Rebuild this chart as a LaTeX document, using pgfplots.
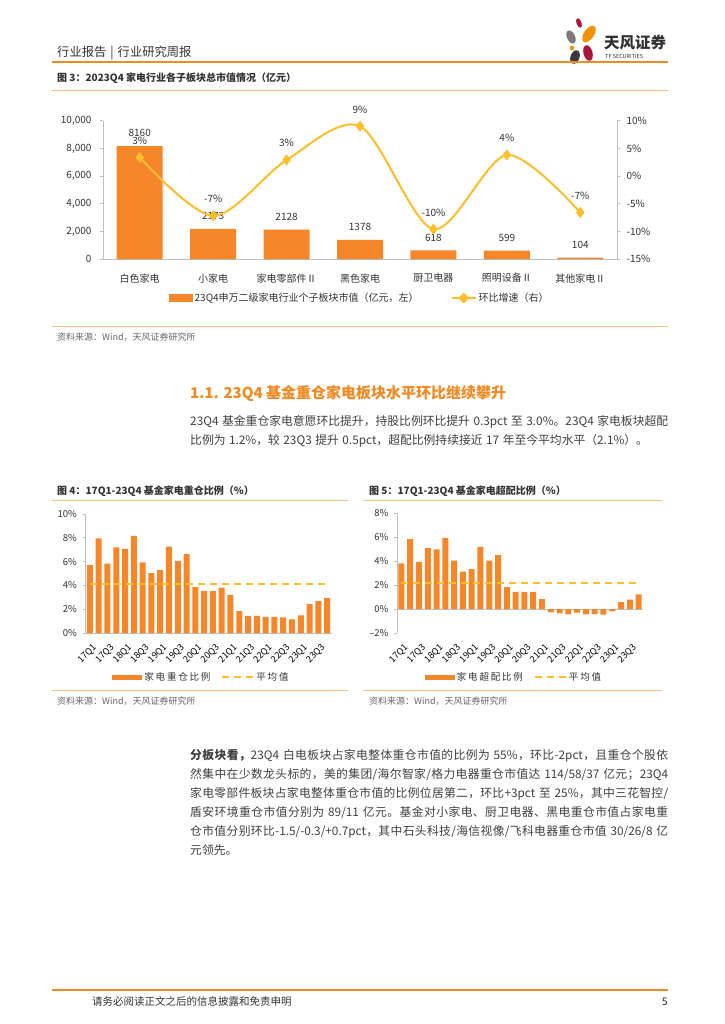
\documentclass[border=0pt]{standalone}
\usepackage{fontspec}
\setmainfont{Noto Sans CJK SC}
\usepackage{pgfplots}
\pgfplotsset{compat=1.18}

% stretchable glue between CJK characters (for justified lines)
\XeTeXinterchartokenstate=1
\makeatletter
\count@="3000
\loop \XeTeXcharclass\count@=7 \advance\count@ by 1 \ifnum\count@<"3040 \repeat
\count@="4E00
\loop \XeTeXcharclass\count@=7 \advance\count@ by 1 \ifnum\count@<"A000 \repeat
\count@="FF00
\loop \XeTeXcharclass\count@=7 \advance\count@ by 1 \ifnum\count@<"FFF0 \repeat
\makeatother
\XeTeXinterchartoks 7 7 = {\hskip 0pt plus 1pt minus 0.2pt\relax}
\XeTeXinterchartoks 0 7 = {\hskip 0pt plus 1pt minus 0.2pt\relax}
\XeTeXinterchartoks 7 0 = {\hskip 0pt plus 1pt minus 0.2pt\relax}

\definecolor{barO}{HTML}{F5862A}
\definecolor{lineY}{HTML}{FDBE2C}
\definecolor{hdrO}{HTML}{F08A24}
\definecolor{ltO}{HTML}{F9BE88}
\definecolor{txt}{HTML}{333333}
\definecolor{body}{HTML}{404040}
\definecolor{src}{HTML}{666666}
\definecolor{axg}{HTML}{BFBFBF}
\definecolor{logoR}{HTML}{A8163A}
\definecolor{logoO}{HTML}{F39200}
\definecolor{logoG}{HTML}{7A7A7A}
\definecolor{logoD}{HTML}{3A3A3A}

\pgfplotsset{
  /pgf/number format/assume math mode=true,
  barlegend/.style={legend image code/.code={\fill[barO] (0pt,-3pt) rectangle (23pt,3.5pt);}},
  barlegendw/.style={legend image code/.code={\fill[barO] (0pt,-2.5pt) rectangle (30pt,2.5pt);}},
  linelegend/.style={legend image code/.code={\draw[lineY,line width=2pt] (0pt,0pt) -- (24pt,0pt); \fill[lineY] (12pt,4pt) -- (16pt,0pt) -- (12pt,-4pt) -- (8pt,0pt) -- cycle;}},
  dashlegend/.style={legend image code/.code={\draw[lineY,line width=2pt,dash pattern=on 7pt off 5pt] (0pt,0pt) -- (31pt,0pt);}},
  pagebase/.style={scale only axis, clip=false,
    axis line style={draw=axg, line width=0.8pt},
    tick align=outside, major tick length=3pt,
    tick style={draw=axg, line width=0.8pt},
    tick label style={text=txt}},
}

\newcommand{\jl}[2]{\node[anchor=base west, inner sep=0, text=body, font=\fontsize{11.8}{14}\selectfont] at (190,#1) {\spaceskip=3.5pt plus 1pt minus 0.5pt\makebox[478pt][s]{#2}};}
\newcommand{\pl}[2]{\node[anchor=base west, inner sep=0, text=body, font=\fontsize{11.8}{14}\selectfont] at (190,#1) {\spaceskip=3.5pt\relax #2};}
\newcommand{\lsp}{\kern1.8pt}

\begin{document}
\begin{tikzpicture}[x=1pt,y=-1pt]
\fill[white] (0,0) rectangle (724,1024);

% ---------- header ----------
\node[anchor=base west, inner sep=0, text=txt, font=\fontsize{12.3}{14}\selectfont] at (57,56.6) {行业报告\hspace{4pt}|\hspace{4pt}行业研究周报};
\fill[logoR, rotate around={20:(579,23)}] (579,23) ellipse (2.5pt and 5pt);
\fill[logoO, rotate around={-35:(589,34)}] (589,34) ellipse (5pt and 9.5pt);
\fill[logoG, rotate around={25:(571,37)}] (571,37) ellipse (4pt and 7pt);
\fill[logoO] (572,48) circle (2.3pt);
\fill[logoR, rotate around={15:(588,53)}] (588,53) ellipse (4.5pt and 8pt);
\fill[logoD, rotate around={-20:(575,57)}] (575,57) ellipse (4.5pt and 7pt);
\node[anchor=base west, inner sep=0, text=txt, font=\fontsize{15.5}{16}\selectfont\bfseries] at (604,48.5) {天风证券};
\node[anchor=base west, inner sep=0, text=txt, font=\fontsize{5.5}{6}\selectfont] at (605,58.5) {TF SECURITIES};
\draw[hdrO, line width=1.5pt] (52,62) -- (668,62);

% ---------- figure 3 ----------
\node[anchor=base west, inner sep=0, text=txt, font=\fontsize{10}{12}\selectfont\bfseries] at (57,81.8) {图 3：2023Q4 家电行业各子板块总市值情况（亿元）};
\draw[ltO, line width=0.8pt] (52,90) -- (668,90);

\begin{axis}[pagebase,
  at={(103pt,-259pt)}, anchor=south west,
  width=514pt, height=138.3pt,
  xmin=-0.5, xmax=6.5, ymin=0, ymax=10000,
  axis x line*=bottom, axis y line*=left,
  xtick={0,...,6},
  xticklabels={白色家电,小家电,家电零部件Ⅱ,黑色家电,厨卫电器,照明设备Ⅱ,其他家电Ⅱ},
  x tick style={draw=none},
  ytick={0,2000,...,10000},
  scaled y ticks=false,
  tick label style={font=\fontsize{10}{12}\selectfont},
  x tick label style={yshift=-8pt},
  y tick label style={xshift=-5pt},
]
\addplot[ybar, bar width=46pt, fill=barO, draw=none,
  nodes near coords={\pgfmathprintnumber[1000 sep={}]{\pgfplotspointmeta}},
  every node near coord/.append style={font=\fontsize{10}{12}\selectfont, text=txt, anchor=center, yshift=13pt}]
  coordinates {(0,8160) (1,2173) (2,2128) (3,1378) (4,618) (5,599) (6,104)};
\end{axis}

\begin{axis}[pagebase,
  at={(103pt,-259pt)}, anchor=south west,
  width=514pt, height=138.3pt,
  xmin=-0.5, xmax=6.5, ymin=-15, ymax=10,
  axis x line=none, axis y line*=right,
  ytick={-15,-10,-5,0,5,10},
  yticklabels={-15\%,-10\%,-5\%,0\%,5\%,10\%},
  tick label style={font=\fontsize{10}{12}\selectfont},
  y tick label style={xshift=3pt},
  legend style={at={(0.5,-0.282)}, anchor=center, draw=none, fill=none,
    font=\fontsize{10}{12}\selectfont, text=txt,
    /tikz/every even column/.append style={column sep=30pt}},
  legend columns=2,
]
\addlegendimage{barlegend}
\addlegendentry{23Q4申万二级家电行业个子板块市值（亿元，左）}
\addplot[smooth, lineY, line width=2pt, mark=diamond*, mark size=4pt,
  mark options={fill=lineY, draw=lineY},
  point meta=explicit symbolic,
  nodes near coords={\pgfplotspointmeta\%},
  every node near coord/.append style={font=\fontsize{10}{12}\selectfont, text=txt, anchor=center, yshift=16.7pt},
  linelegend]
  coordinates {(0,3.35) [3] (1,-7.2) [-7] (2,2.9) [3] (3,9.0) [9] (4,-9.6) [-10] (5,3.8) [4] (6,-6.6) [-7]};
\addlegendentry{环比增速（右）}
\end{axis}

\draw[ltO, line width=0.8pt] (52,326) -- (668,326);
\node[anchor=base west, inner sep=0, text=src, font=\fontsize{9}{11}\selectfont] at (57,340.4) {资料来源：Wind，天风证券研究所};

% ---------- section text ----------
\node[anchor=base west, inner sep=0, text=hdrO, font=\fontsize{15}{17}\selectfont\bfseries] at (190,398.7) {1.1. 23Q4 基金重仓家电板块水平环比继续攀升};
\jl{425.6}{23Q4 基金重仓家电意愿环比提升，持股比例环比提升 0.3pct 至 3.0\%。23Q4 家电板块超配}
\pl{444.6}{比例为 1.2\%，较 23Q3 提升 0.5pct，超配比例持续接近 17 年至今平均水平（2.1\%）。}

% ---------- figure 4 ----------
\node[anchor=base west, inner sep=0, text=txt, font=\fontsize{10}{12}\selectfont\bfseries] at (57,494.8) {图 4：17Q1-23Q4 基金家电重仓比例（\%）};
\draw[ltO, line width=0.8pt] (52,500) -- (348,500);

\begin{axis}[pagebase,
  at={(85.5pt,-633pt)}, anchor=south west,
  width=246pt, height=119pt,
  xmin=-0.5, xmax=27.5, ymin=0, ymax=10,
  axis x line*=bottom, axis y line*=left,
  xtick={0,2,...,26},
  xticklabels={17Q1,17Q3,18Q1,18Q3,19Q1,19Q3,20Q1,20Q3,21Q1,21Q3,22Q1,22Q3,23Q1,23Q3},
  x tick style={draw=none},
  x tick label style={rotate=45, anchor=north east, font=\fontsize{9}{10}\selectfont, text=black, yshift=-3pt},
  ytick={0,2,4,6,8,10},
  yticklabels={0\%,2\%,4\%,6\%,8\%,10\%},
  y tick label style={font=\fontsize{9.5}{11}\selectfont, xshift=-2pt},
  legend style={at={(0.4715,-0.37)}, anchor=center, draw=none, fill=none,
    font=\fontsize{9.5}{11}\selectfont, text=txt,
    /tikz/every even column/.append style={column sep=9pt}},
  legend columns=2,
]
\addplot[ybar, bar width=6pt, fill=barO, draw=none, barlegendw]
  coordinates {(0,5.7) (1,7.95) (2,5.84) (3,7.19) (4,7.08) (5,8.17) (6,5.93) (7,5.03) (8,5.28) (9,7.25)
  (10,6.04) (11,6.63) (12,3.85) (13,3.51) (14,3.51) (15,3.82) (16,3.2) (17,1.83) (18,1.43) (19,1.43)
  (20,1.35) (21,1.35) (22,1.32) (23,1.15) (24,1.49) (25,2.42) (26,2.67) (27,2.95)};
\addlegendentry{家\lsp 电\lsp 重\lsp 仓\lsp 比\lsp 例}
\addplot[lineY, line width=2pt, dash pattern=on 7pt off 5pt, dashlegend]
  coordinates {(0,4.13) (27,4.13)};
\addlegendentry{平\lsp 均\lsp 值}
\end{axis}

\draw[ltO, line width=0.8pt] (52,690) -- (348,690);
\node[anchor=base west, inner sep=0, text=src, font=\fontsize{9}{11}\selectfont] at (57,704.4) {资料来源：Wind，天风证券研究所};

% ---------- figure 5 ----------
\node[anchor=base west, inner sep=0, text=txt, font=\fontsize{10}{12}\selectfont\bfseries] at (369,494.8) {图 5：17Q1-23Q4 基金家电超配比例（\%）};
\draw[ltO, line width=0.8pt] (363,500) -- (662,500);

\begin{axis}[pagebase,
  at={(397pt,-633pt)}, anchor=south west,
  width=246pt, height=120pt,
  xmin=-0.5, xmax=27.5, ymin=-2, ymax=8,
  axis x line*=bottom, axis y line*=left,
  x axis line style={draw=none},
  xtick={0,2,...,26},
  xticklabels={17Q1,17Q3,18Q1,18Q3,19Q1,19Q3,20Q1,20Q3,21Q1,21Q3,22Q1,22Q3,23Q1,23Q3},
  x tick style={draw=none},
  x tick label style={rotate=45, anchor=north east, font=\fontsize{9}{10}\selectfont, text=black, yshift=-3pt},
  ytick={-2,0,2,4,6,8},
  yticklabels={–2\%,0\%,2\%,4\%,6\%,8\%},
  y tick label style={font=\fontsize{9.5}{11}\selectfont, xshift=-2pt},
  extra y ticks={0}, extra y tick labels={},
  extra y tick style={grid=major, major grid style={draw=axg, line width=0.8pt}},
  legend style={at={(0.4756,-0.367)}, anchor=center, draw=none, fill=none,
    font=\fontsize{9.5}{11}\selectfont, text=txt,
    /tikz/every even column/.append style={column sep=9pt}},
  legend columns=2,
]
\addplot[ybar, bar width=6pt, fill=barO, draw=none, barlegendw]
  coordinates {(0,3.81) (1,5.83) (2,3.92) (3,5.08) (4,4.97) (5,5.92) (6,4.03) (7,3.11) (8,3.33) (9,5.17)
  (10,4.03) (11,4.5) (12,1.83) (13,1.42) (14,1.42) (15,1.42) (16,0.83) (17,-0.28) (18,-0.36) (19,-0.44)
  (20,-0.31) (21,-0.44) (22,-0.42) (23,-0.47) (24,-0.19) (25,0.58) (26,0.78) (27,1.22)};
\addlegendentry{家\lsp 电\lsp 超\lsp 配\lsp 比\lsp 例}
\addplot[lineY, line width=2pt, dash pattern=on 7pt off 5pt, dashlegend]
  coordinates {(0,2.14) (27,2.14)};
\addlegendentry{平\lsp 均\lsp 值}
\end{axis}

\draw[ltO, line width=0.8pt] (363,690) -- (662,690);
\node[anchor=base west, inner sep=0, text=src, font=\fontsize{9}{11}\selectfont] at (369,704.4) {资料来源：Wind，天风证券研究所};

% ---------- paragraph ----------
\jl{759.6}{\textbf{分板块看，}23Q4 白电板块占家电整体重仓市值的比例为 55\%，环比-2pct，且重仓个股依}
\jl{778.6}{然集中在少数龙头标的，美的集团/海尔智家/格力电器重仓市值达 114/58/37 亿元；23Q4}
\jl{797.6}{家电零部件板块占家电整体重仓市值的比例位居第二，环比+3pct 至 25\%，其中三花智控/}
\jl{816.6}{盾安环境重仓市值分别为 89/11 亿元。基金对小家电、厨卫电器、黑电重仓市值占家电重}
\jl{835.6}{仓市值分别环比-1.5/-0.3/+0.7pct，其中石头科技/海信视像/飞科电器重仓市值 30/26/8 亿}
\pl{854.6}{元领先。}

% ---------- footer ----------
\draw[hdrO, line width=2pt] (52,990) -- (668,990);
\node[anchor=base west, inner sep=0, text=txt, font=\fontsize{10.5}{12}\selectfont] at (92,1005) {请务必阅读正文之后的信息披露和免责申明};
\node[anchor=base east, inner sep=0, text=txt, font=\fontsize{10.5}{12}\selectfont] at (668,1005) {5};
\end{tikzpicture}
\end{document}
